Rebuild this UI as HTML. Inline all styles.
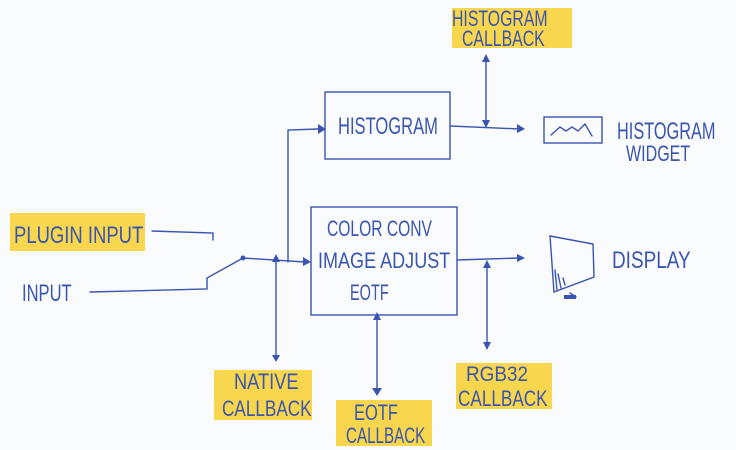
<!DOCTYPE html>
<html><head><meta charset="utf-8"><style>
html,body{margin:0;padding:0;background:#f9fbfd;}
svg{display:block}
text{font-family:"Liberation Sans",sans-serif;fill:#3a55b0;}
</style></head><body>
<svg width="736" height="450" viewBox="0 0 736 450" xmlns="http://www.w3.org/2000/svg" font-size="22">
<rect width="736" height="450" fill="#f9fbfd"/>
<g fill="#f7d23a" opacity="0.9">
<rect x="452" y="8" width="120" height="40"/>
<rect x="10" y="213" width="135" height="38"/>
<rect x="214" y="370" width="98" height="50"/>
<rect x="336" y="400" width="96" height="46"/>
<rect x="456" y="363" width="96" height="46"/>
</g>
<g stroke="#3a55b0" stroke-width="1.4" fill="none" stroke-linecap="round">
<rect x="325" y="92" width="125" height="67"/>
<rect x="311" y="207" width="146" height="108"/>
<rect x="544" y="117" width="58" height="26"/>
<path d="M551 135 L560 127 L566 131 L572 127 L578 131 L585 124 L592 136"/>
<path d="M550 236 L593 244 L594 277 L554 292 Z"/>
<path d="M557 290 L555 270 M561 288 L558 274 M565 285 L563 278"/>
<path d="M152 231 L213 233 L213 240"/>
<path d="M90 292 L207 289 L207 278 L243 258 L305 262"/>
<path d="M288 262 L288 130 L318 129"/>
<path d="M276 262 L276 355"/>
<path d="M450 126 L520 129"/>
<path d="M486 62 L486 124"/>
<path d="M457 260 L520 258"/>
<path d="M487 262 L487 345"/>
<path d="M377 315 L377 390"/>
<path d="M570 293 L576 297"/>
</g>
<g fill="#3a55b0">
<circle cx="243" cy="258" r="2.5"/>
<path d="M318 124 L326 129 L318 134 Z"/>
<path d="M303 257 L311 262 L303 266 Z"/>
<path d="M517 124 L525 129 L517 133 Z"/>
<path d="M517 254 L525 258 L517 262 Z"/>
<path d="M272 262 L276 254 L280 262 Z"/>
<path d="M272 355 L276 362 L280 355 Z"/>
<path d="M482 62 L486 54 L490 62 Z"/>
<path d="M482 120 L486 128 L490 120 Z"/>
<path d="M483 268 L487 260 L491 268 Z"/>
<path d="M483 342 L487 350 L491 342 Z"/>
<path d="M373 320 L377 312 L381 320 Z"/>
<path d="M372 388 L377 396 L382 388 Z"/>
<path d="M564 295 h12 v4 h-12 Z"/>
</g>
<text transform="translate(452 26) scale(0.72 1)" font-size="22">HISTOGRAM</text>
<text transform="translate(462 46) scale(0.72 1)" font-size="22">CALLBACK</text>
<text transform="translate(338 134) scale(0.69 1)" font-size="24">HISTOGRAM</text>
<text transform="translate(617 139) scale(0.68 1)" font-size="24">HISTOGRAM</text>
<text transform="translate(626 161) scale(0.73 1)" font-size="22">WIDGET</text>
<text transform="translate(14 243) scale(0.77 1)" font-size="24">PLUGIN INPUT</text>
<text transform="translate(22 301) scale(0.69 1)" font-size="24">INPUT</text>
<text transform="translate(327 236) scale(0.71 1)" font-size="22">COLOR CONV</text>
<text transform="translate(318 268) scale(0.82 1)" font-size="22">IMAGE ADJUST</text>
<text transform="translate(350 300) scale(0.66 1)" font-size="22">EOTF</text>
<text transform="translate(612 268) scale(0.79 1)" font-size="24">DISPLAY</text>
<text transform="translate(234 389) scale(0.83 1)" font-size="22">NATIVE</text>
<text transform="translate(222 416) scale(0.78 1)" font-size="22">CALLBACK</text>
<text transform="translate(354 420) scale(0.75 1)" font-size="22">EOTF</text>
<text transform="translate(346 443) scale(0.69 1)" font-size="22">CALLBACK</text>
<text transform="translate(466 381) scale(0.9 1)" font-size="21">RGB32</text>
<text transform="translate(458 406) scale(0.78 1)" font-size="22">CALLBACK</text>
</svg>
</body></html>
